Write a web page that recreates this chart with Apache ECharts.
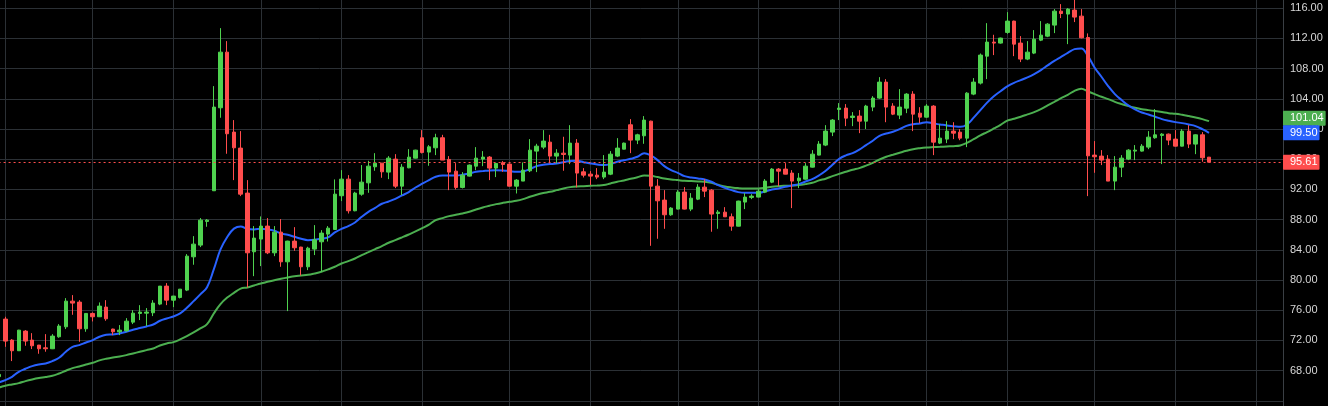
<!DOCTYPE html>
<html>
<head>
<meta charset="utf-8">
<style>
html,body{margin:0;padding:0;background:#000;overflow:hidden;width:1328px;height:406px;position:relative;}
#chart{position:absolute;left:-20px;top:-22.1px;width:1348px;height:453px;}
</style>
<script src="https://cdn.jsdelivr.net/npm/echarts/dist/echarts.min.js"></script>
</head>
<body>
<div id="chart"></div>
<script>
// ---- data (index 0 = partially visible first candle) ----
const opens = [67.2,74.82,72.04,70.63,73.23,72.04,71.38,71.02,70.89,72.48,
73.8,77.2,77.07,73.54,75.57,75.13,76.41,73.5,73.14,73.27,
74.42,75.57,75.61,75.66,76.81,79.19,77.33,77.69,78.66,83.07,
84.62,87.76,91.82,102.81,110.18,99.59,97.47,91.51,83.74,85.42,
87.14,83.6,86.34,82.41,85.15,84.36,81.75,84.09,85.06,86.08,
86.69,91.16,93.36,89.17,91.37,92.87,94.99,95.48,94.29,96.01,
92.43,94.86,96.14,98.84,96.94,97.51,98.84,95.97,94.42,92.26,
93.76,95.08,96.01,96.28,94.82,95.53,95.35,92.43,93.1,94.46,
97.07,97.6,98.26,96.41,96.8,96.54,98.13,94.33,94.02,93.89,
93.63,94.02,96.41,97.33,100.56,98.53,99.1,101.04,92.43,90.58,
88.64,89.39,91.64,89.39,90.71,92.3,91.9,88.81,88.99,88.37,
87.13,90.32,90.94,90.98,91.64,92.96,94.69,94.69,94.16,93.14,
93.36,94.95,96.54,97.87,99.59,102.59,102.77,101.53,101.71,101.04,
102.9,104.09,106.21,103.03,101.84,102.76,104.62,102.1,101.57,103.03,
98.13,98.66,99.72,99.58,98.79,104.62,106.08,109.65,111.51,111.38,
112.79,114.29,111.38,109.26,110.05,111.77,112.3,113.76,115.61,115.22,
115.75,114.95,112.12,96.54,96.41,96.01,93.1,94.95,96.01,97.07,
97.07,97.6,98.84,99.15,99.32,98.66,97.73,99.72,98.0,99.23,
96.27];
const closes = [67.5,71.91,70.63,73.36,71.91,71.29,70.89,70.89,72.57,73.9,
77.2,76.94,73.54,75.57,75.13,76.54,74.86,73.14,73.36,74.55,
75.61,75.75,75.75,76.94,79.19,77.33,77.87,78.79,83.16,84.75,
87.93,87.93,102.9,110.18,99.37,97.51,91.37,83.6,85.55,87.14,
83.6,86.34,82.41,85.15,84.27,81.75,84.22,85.33,86.21,86.87,
91.37,93.36,89.17,91.51,92.96,95.08,95.48,94.33,96.14,92.43,
94.95,96.27,97.2,96.89,97.64,98.84,95.88,94.29,92.26,93.89,
95.22,96.14,96.28,94.82,95.44,95.3,92.43,93.23,94.55,97.2,
97.73,98.4,96.41,96.8,96.63,98.13,94.16,93.89,93.76,93.63,
94.29,96.67,97.47,98.13,98.53,99.23,101.18,92.43,90.49,88.64,
89.52,91.64,89.39,90.84,92.3,91.77,88.73,88.99,88.37,87.13,
90.45,90.98,91.11,91.77,93.1,94.69,94.42,94.02,93.1,93.5,
95.08,96.67,98.0,99.72,101.18,102.77,101.44,101.71,101.04,103.03,
104.09,106.21,102.9,101.97,102.9,104.62,101.97,101.57,103.03,98.26,
98.79,99.72,99.45,98.79,104.75,106.21,109.79,111.51,111.38,112.04,
114.29,111.24,109.26,110.18,111.9,112.43,113.89,115.61,115.3,115.88,
114.82,112.08,96.45,96.32,95.88,93.1,94.95,96.14,97.2,97.2,
97.73,98.92,99.23,99.32,98.53,97.73,99.72,98.0,99.23,96.19,
95.61];
const lows = [67.1,71.15,69.26,70.6,71.29,70.85,70.23,70.5,70.85,72.35,
73.5,75.39,71.82,73.14,74.51,75.1,74.6,72.7,72.7,73.14,
74.16,74.69,73.9,75.22,76.67,76.67,76.41,77.56,78.53,82.02,
84.36,87.05,91.8,101.49,96.72,93.23,91.11,79.01,80.51,81.84,
83.43,83.16,81.75,75.88,83.87,80.6,81.31,83.3,81.09,85.1,
86.65,90.45,88.81,89.1,91.16,91.55,94.47,93.54,93.36,92.17,
91.24,94.8,96.1,96.76,95.13,96.54,95.88,91.9,92.0,92.13,
93.7,94.55,95.08,93.23,93.63,94.33,92.4,91.46,93.1,94.29,
94.29,97.33,95.44,95.44,94.47,95.35,92.26,93.58,92.57,93.36,
93.36,93.89,96.28,97.3,96.8,98.0,98.04,84.53,85.46,86.78,
88.5,89.35,89.35,89.12,90.58,90.98,86.39,86.78,88.37,86.52,
87.1,89.39,90.71,90.95,91.51,92.83,92.43,94.0,89.52,92.17,
93.3,94.9,96.5,97.73,99.06,101.18,100.38,100.38,99.45,100.0,
102.36,104.0,100.9,101.84,101.31,102.1,99.72,100.77,101.5,96.54,
98.0,98.13,98.66,98.52,97.6,104.48,105.9,106.61,109.79,111.3,
112.61,109.65,108.86,109.12,109.92,111.64,112.17,112.7,114.69,111.24,
114.16,112.0,91.11,94.2,95.22,93.1,91.9,93.63,95.88,95.88,
97.0,97.33,98.71,95.35,97.86,97.7,97.7,97.47,96.67,95.66,
95.6];
const highs = [67.6,75.13,72.17,73.4,73.36,72.96,71.4,72.83,72.83,74.16,
77.6,78.0,77.33,75.6,75.7,77.03,77.33,73.55,74.03,74.95,
76.01,76.67,76.28,77.33,79.2,79.59,77.9,78.8,83.43,85.81,
88.2,88.07,105.68,113.36,111.64,101.18,99.72,93.23,87.14,88.42,
88.2,87.14,88.07,85.2,87.0,84.4,84.4,87.27,86.6,87.14,
93.32,94.55,93.89,91.68,95.22,95.79,96.8,95.5,96.41,96.67,
95.35,97.33,97.25,99.85,97.87,99.37,99.23,96.41,95.48,94.29,
95.3,97.6,97.07,96.41,95.5,95.75,95.44,93.36,95.57,98.66,
98.04,99.85,99.23,97.33,98.97,100.51,98.66,94.82,94.42,94.82,
96.54,97.07,98.79,98.2,101.31,99.37,101.71,101.1,93.36,91.9,
89.65,91.9,92.3,91.51,92.7,93.36,92.04,89.26,89.65,88.81,
90.5,91.51,91.37,92.04,93.36,94.82,94.82,95.48,94.55,94.16,
95.48,97.2,98.4,100.51,101.31,103.43,103.3,102.24,102.5,103.2,
104.35,106.87,106.6,103.42,105.28,104.75,105.01,102.89,103.3,103.16,
100.64,101.04,100.9,99.98,104.88,106.74,110.0,114.02,112.48,112.1,
115.48,114.35,112.3,111.64,113.1,114.29,114.02,115.88,116.54,116.01,
117.2,115.88,112.66,98.4,97.2,96.54,96.41,96.54,97.33,97.87,
98.0,99.72,102.63,99.45,99.4,99.85,99.98,100.51,99.3,99.59,
96.3];
const maFast = [66.43,66.74,67.18,67.84,68.24,68.59,68.81,68.95,69.26,69.70,
70.49,71.15,71.38,71.73,72.04,72.48,72.74,72.79,72.92,73.14,
73.41,73.63,73.85,74.11,74.60,74.91,75.17,75.57,76.32,77.20,
78.09,79.05,81.40,84.05,85.70,86.80,87.10,86.75,86.70,86.78,
86.70,86.52,86.17,85.99,85.72,85.46,85.28,85.33,85.46,85.64,
86.30,86.78,87.14,87.62,88.37,89.03,89.56,90.10,90.40,90.75,
91.20,91.65,92.25,92.75,93.23,93.67,93.85,93.85,93.85,93.93,
94.11,94.33,94.42,94.51,94.55,94.51,94.42,94.33,94.38,94.69,
95.08,95.26,95.35,95.44,95.61,95.75,95.79,95.61,95.44,95.30,
95.22,95.35,95.66,95.85,96.05,96.32,96.80,96.50,95.88,95.08,
94.55,94.20,93.76,93.58,93.45,93.32,93.01,92.57,92.21,91.90,
91.64,91.55,91.55,91.55,91.73,91.99,92.13,92.35,92.52,92.70,
93.05,93.36,93.85,94.46,95.28,96.05,96.50,96.80,97.27,97.87,
98.44,99.10,99.41,99.63,99.98,100.42,100.64,100.73,100.91,100.73,
100.60,100.47,100.38,100.29,100.60,101.50,102.50,103.50,104.35,105.00,
105.65,106.12,106.47,106.83,107.27,107.80,108.42,109.03,109.56,110.09,
110.58,110.67,109.65,108.11,106.92,105.68,104.62,103.83,103.12,102.59,
102.19,101.93,101.62,101.31,101.09,100.91,100.78,100.60,100.38,99.98,
99.50];
const maSlow = [65.72,65.99,66.17,66.34,66.61,66.83,67.01,67.14,67.31,67.62,
67.98,68.33,68.55,68.81,69.04,69.35,69.57,69.74,69.87,70.05,
70.27,70.49,70.71,70.93,71.33,71.60,71.77,72.13,72.57,73.05,
73.58,74.16,75.57,76.81,77.67,78.30,78.86,79.01,79.28,79.54,
79.76,79.98,80.16,80.34,80.51,80.60,80.69,80.87,81.09,81.40,
81.75,82.19,82.50,82.85,83.30,83.69,84.09,84.49,84.93,85.28,
85.65,86.03,86.43,86.87,87.33,87.93,88.20,88.46,88.64,88.81,
89.03,89.34,89.61,89.83,90.05,90.22,90.36,90.49,90.71,91.02,
91.29,91.51,91.68,91.90,92.13,92.30,92.39,92.43,92.48,92.52,
92.57,92.79,93.01,93.18,93.40,93.60,93.85,93.80,93.63,93.45,
93.32,93.23,93.14,93.10,93.05,93.01,92.87,92.61,92.39,92.26,
92.17,92.13,92.13,92.13,92.21,92.35,92.43,92.48,92.52,92.57,
92.70,92.87,93.19,93.42,93.76,94.06,94.33,94.60,94.82,95.15,
95.52,95.96,96.32,96.58,96.85,97.11,97.33,97.46,97.55,97.60,
97.64,97.69,97.73,97.82,98.15,98.65,99.15,99.60,100.07,100.55,
101.10,101.35,101.62,101.93,102.24,102.63,103.12,103.60,104.09,104.53,
105.06,105.33,104.97,104.62,104.27,103.96,103.60,103.30,103.03,102.81,
102.63,102.50,102.37,102.24,102.10,102.02,101.88,101.71,101.53,101.31,
101.04];
const slotCount = 192;                       // candle slots incl. empty space on the right
const categories = Array.from({length: slotCount}, (_, i) => String(i));
const gridSlots = [1,14,26,39,51,63,76,88,101,113,125,138,150,163,175,187];
const yTicks = {min: 60, max: 120, step: 4};

// ---- styles ----
const UP = '#4fd24f', DOWN = '#ff4d4d';
const BLUE = '#2962ff', SLOW = '#4caf50';
const GRID = '#2b3035';
const FONT = '"Liberation Sans", Arial, sans-serif';

const candles = opens.map((o, i) => [o, closes[i], lows[i], highs[i]]);
const gridSet = new Set(gridSlots);
const last = a => a[a.length - 1];

function tagLabel(bg, dy) {
  return {
    show: true, position: 'end', distance: 0,
    formatter: p => Number(p.value).toFixed(2),
    color: '#ffffff', backgroundColor: bg,
    fontFamily: FONT, fontSize: 11, lineHeight: 12,
    padding: [2, 2, 1, 7], borderRadius: 1,
    offset: [0, dy]
  };
}

const chart = echarts.init(document.getElementById('chart'), null, {renderer: 'canvas'});
chart.setOption({
  backgroundColor: '#000000',
  animation: false,
  grid: {left: 18.58, right: 45, top: 0, bottom: 0, containLabel: false},
  xAxis: {
    type: 'category', data: categories, boundaryGap: false,
    axisLine: {show: false}, axisTick: {show: false}, axisLabel: {show: false},
    splitLine: {show: true, interval: (idx) => gridSet.has(idx), lineStyle: {color: GRID, width: 1}}
  },
  yAxis: {
    type: 'value', position: 'right', min: yTicks.min, max: yTicks.max, interval: yTicks.step,
    axisLine: {show: true, lineStyle: {color: '#3a3f44', width: 1}},
    axisTick: {show: false},
    axisLabel: {
      color: '#d6d6d6', fontSize: 11, fontFamily: FONT, margin: 7,
      formatter: v => (v < 66 || v > 118) ? '' : v.toFixed(2)
    },
    splitLine: {show: true, lineStyle: {color: GRID, width: 1}}
  },
  series: [
    {
      name: 'slow', type: 'line', data: maSlow, showSymbol: false, smooth: 0.4, z: 1,
      lineStyle: {color: SLOW, width: 2}, silent: true,
      markLine: {
        silent: true, symbol: ['none', 'none'],
        lineStyle: {color: 'rgba(0,0,0,0)', width: 0},
        label: tagLabel(SLOW, -3),
        data: [{yAxis: last(maSlow)}]
      }
    },
    {
      name: 'fast', type: 'line', data: maFast, showSymbol: false, smooth: 0.4, z: 1,
      lineStyle: {color: BLUE, width: 2}, silent: true,
      markLine: {
        silent: true, symbol: ['none', 'none'],
        lineStyle: {color: 'rgba(0,0,0,0)', width: 0},
        label: tagLabel(BLUE, 0),
        data: [{yAxis: last(maFast)}]
      }
    },
    {
      name: 'price', type: 'candlestick', data: candles, barWidth: 4, z: 3,
      itemStyle: {color: UP, color0: DOWN, borderColor: UP, borderColor0: DOWN, borderWidth: 1},
      markLine: {
        silent: true, symbol: ['none', 'none'],
        lineStyle: {color: DOWN, type: [2, 3], width: 1, opacity: 1},
        label: tagLabel(DOWN, 0),
        data: [{yAxis: last(closes)}]
      }
    }
  ]
});
</script>
</body>
</html>
